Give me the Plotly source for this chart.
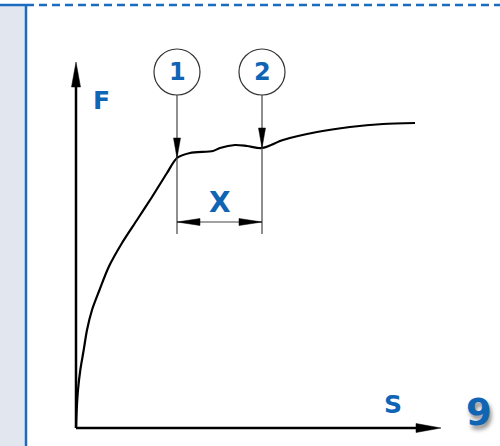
import plotly.graph_objects as go

# curve F(S) (1 unit ~ 1 px)
s_vals = [0, 0.7, 2, 4.3, 7.7, 11, 16, 23.5, 32.7, 46, 61, 76, 91, 101,
          114, 137, 144, 159, 171, 186, 207, 241, 274, 307, 339]
f_vals = [0, 18, 38, 58, 78, 98, 118, 138, 161, 185, 208, 231, 255, 270,
          275, 277, 280, 283, 282, 280, 288, 296, 301, 304, 305]

# marked points on the curve
point_labels = ['1', '2']
point_idx = [13, 19]
dim_label = 'X'

axis_labels = ['S', 'F']
axis_max = [365, 366]
page_label = '9'

BLUE = '#1064b4'
LINE_BLUE = '#1a6cc0'
TEXT_FONT = 'DejaVu Sans'

W, H = 500, 446
X_RANGE = [-76, 424]
Y_RANGE = [-18, 428]


def arrow_head(tx, ty, dx, dy, length, half):
  # filled triangle with its tip at (tx, ty), pointing along (dx, dy)
  bx, by = tx - dx * length, ty - dy * length
  px, py = -dy * half, dx * half
  return go.Scatter(x=[tx, bx + px, bx - px, tx], y=[ty, by + py, by - py, ty],
                    mode='lines', fill='toself', fillcolor='black',
                    line=dict(color='black', width=0.5), hoverinfo='skip', showlegend=False)


fig = go.Figure()

# axes
fig.add_trace(go.Scatter(x=[0, 0], y=[axis_max[1] - 10, 0], mode='lines',
                         line=dict(color='black', width=2.5), hoverinfo='skip', showlegend=False))
fig.add_trace(go.Scatter(x=[0, axis_max[0] - 10], y=[0, 0], mode='lines',
                         line=dict(color='black', width=2.5), hoverinfo='skip', showlegend=False))
fig.add_trace(arrow_head(0, axis_max[1], 0, 1, 25, 4.5))
fig.add_trace(arrow_head(axis_max[0], 0, 1, 0, 25, 4.5))

# curve
fig.add_trace(go.Scatter(x=s_vals, y=f_vals, mode='lines', line_shape='spline',
                         line=dict(color='black', width=2.2, smoothing=0.8),
                         hoverinfo='skip', showlegend=False))

# markers 1 and 2
r = 23
circle_f = 356
dim_f = 206
ps = [s_vals[i] for i in point_idx]
pf = [f_vals[i] for i in point_idx]
for lab, s, f in zip(point_labels, ps, pf):
  fig.add_shape(type='circle', xref='x', yref='y', x0=s - r, x1=s + r, y0=circle_f - r, y1=circle_f + r,
                line=dict(color='#333333', width=1.2), fillcolor='white')
  fig.add_trace(go.Scatter(x=[s, s], y=[circle_f - r, dim_f - 12], mode='lines',
                           line=dict(color='#444444', width=1.2), hoverinfo='skip', showlegend=False))
  fig.add_trace(arrow_head(s, f, 0, -1, 20, 3.5))
  fig.add_annotation(x=s, y=circle_f, text='<b>' + lab + '</b>', showarrow=False,
                     font=dict(family=TEXT_FONT, size=24, color=BLUE))

# dimension X
fig.add_trace(go.Scatter(x=ps, y=[dim_f, dim_f], mode='lines',
                         line=dict(color='#444444', width=1.2), hoverinfo='skip', showlegend=False))
fig.add_trace(arrow_head(ps[0], dim_f, -1, 0, 23, 3.5))
fig.add_trace(arrow_head(ps[1], dim_f, 1, 0, 23, 3.5))
fig.add_annotation(x=(ps[0] + ps[1]) / 2, y=dim_f + 20, text='<b>' + dim_label + '</b>', showarrow=False,
                   font=dict(family=TEXT_FONT, size=28, color=BLUE))

# axis labels
fig.add_annotation(x=25, y=328, text='<b>' + axis_labels[1] + '</b>', showarrow=False,
                   font=dict(family=TEXT_FONT, size=25, color=BLUE))
fig.add_annotation(x=317, y=24, text='<b>' + axis_labels[0] + '</b>', showarrow=False,
                   font=dict(family=TEXT_FONT, size=25, color=BLUE))
fig.add_annotation(x=388, y=16, text='<b>' + page_label + '</b>', showarrow=False, xanchor='left',
                   font=dict(family=TEXT_FONT, size=37, color=BLUE, shadow='2px 4px 4px rgba(0,0,0,0.45)'))

# page frame: textured strip on the left, blue border
fig.add_shape(type='rect', xref='paper', yref='paper', x0=0, x1=26 / W, y0=0, y1=1 - 5 / H,
              fillcolor='#e2e6ee', line_width=0, layer='below')
fig.add_shape(type='line', xref='paper', yref='paper', x0=26 / W, x1=26 / W, y0=0, y1=1 - 5 / H,
              line=dict(color=LINE_BLUE, width=2.5))
fig.add_shape(type='line', xref='paper', yref='paper', x0=0, x1=26 / W, y0=1 - 5 / H, y1=1 - 5 / H,
              line=dict(color=LINE_BLUE, width=2.5))
fig.add_shape(type='line', xref='paper', yref='paper', x0=26 / W, x1=1, y0=1 - 5 / H, y1=1 - 5 / H,
              line=dict(color=LINE_BLUE, width=2.5, dash='8px,5px'))

fig.update_layout(
  width=W, height=H, margin=dict(l=0, r=0, t=0, b=0),
  plot_bgcolor='white', paper_bgcolor='white', showlegend=False,
  xaxis=dict(range=X_RANGE, visible=False, fixedrange=True),
  yaxis=dict(range=Y_RANGE, visible=False, fixedrange=True),
)

# page body has an 8px default margin; drop it so the figure fills the window
fig.write_html("out.html", config={'displayModeBar': False},
               post_script="document.body.style.margin='0';document.body.style.overflow='hidden';")
